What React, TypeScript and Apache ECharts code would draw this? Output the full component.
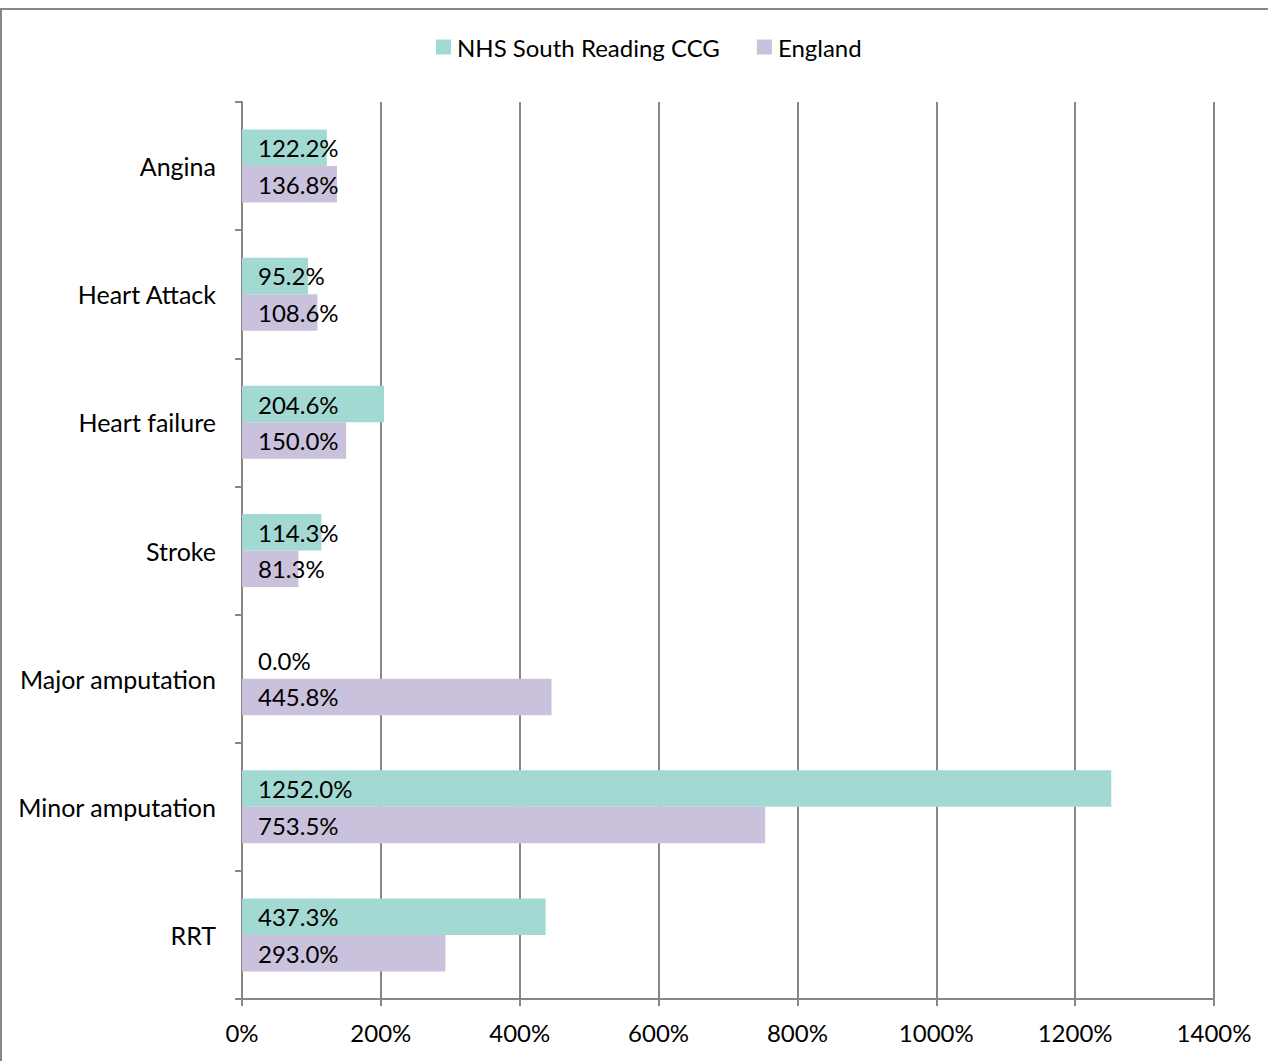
import React, { useEffect, useRef } from "react";
import * as echarts from "echarts";

const categories = ["Angina", "Heart Attack", "Heart failure", "Stroke", "Major amputation", "Minor amputation", "RRT"];
const southReading = [122.2, 95.2, 204.6, 114.3, 0.0, 1252.0, 437.3];
const england = [136.8, 108.6, 150.0, 81.3, 445.8, 753.5, 293.0];
const seriesNames = ["NHS South Reading CCG", "England"];

const FONT = "Lato";
const GRAY = "#868686";

export default function App() {
  const ref = useRef<HTMLDivElement>(null);
  useEffect(() => {
    document.body.style.margin = "0";
    const chart = echarts.init(ref.current!, undefined, { renderer: "svg" });
    const label = {
      show: true,
      position: "insideLeft" as const,
      distance: 16,
      color: "#000",
      fontFamily: FONT,
      fontSize: 24,
      formatter: (p: any) => p.value.toFixed(1) + "%",
    };
    chart.setOption({
      animation: false,
      textStyle: { fontFamily: FONT },
      legend: {
        top: 22,
        left: 431,
        itemWidth: 15,
        itemHeight: 15,
        itemGap: 37,
        icon: "rect",
        textStyle: { fontFamily: FONT, fontSize: 24, color: "#000", padding: [0, 0, 0, 1] },
        data: seriesNames,
      },
      grid: { left: 242, right: 54, top: 94, bottom: 62, containLabel: false },
      xAxis: {
        type: "value",
        min: 0,
        max: 1400,
        interval: 200,
        axisLine: { show: true, lineStyle: { color: GRAY, width: 2 } },
        axisTick: { show: true, length: 7, lineStyle: { color: GRAY, width: 2 } },
        splitLine: { show: true, lineStyle: { color: GRAY, width: 2 } },
        axisLabel: {
          formatter: (v: number) => String(v) + "%",
          color: "#000",
          fontFamily: FONT,
          fontSize: 24,
          margin: 21,
        },
      },
      yAxis: {
        type: "category",
        inverse: true,
        data: categories,
        axisLine: { show: true, lineStyle: { color: GRAY, width: 2 } },
        axisTick: { show: true, length: 7, lineStyle: { color: GRAY, width: 2 } },
        axisLabel: { color: "#000", fontFamily: FONT, fontSize: 25, margin: 26 },
      },
      series: [
        {
          name: seriesNames[0],
          type: "bar",
          data: southReading,
          barWidth: 36.5,
          barGap: "0%",
          itemStyle: { color: "#A2DAD3" },
          label,
        },
        {
          name: seriesNames[1],
          type: "bar",
          data: england,
          barWidth: 36.5,
          barGap: "0%",
          itemStyle: { color: "#CAC1DD" },
          label,
        },
      ],
    });
    return () => chart.dispose();
  }, []);
  return (
    <div
      style={{
        position: "absolute",
        left: 0,
        top: 8,
        width: 1268,
        height: 1053,
        boxSizing: "border-box",
        borderTop: "2px solid " + GRAY,
        borderLeft: "2px solid " + GRAY,
        background: "#fff",
      }}
    >
      <div ref={ref} style={{ position: "absolute", left: -2, top: -2, width: 1268, height: 1053 }} />
    </div>
  );
}
